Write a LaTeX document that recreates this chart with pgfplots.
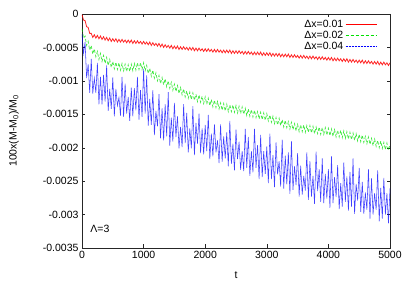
\documentclass[border=0pt]{standalone}
\usepackage{fontspec}
\setmainfont{Liberation Sans}
\usepackage{pgfplots}
\pgfplotsset{compat=1.18}
\usetikzlibrary{calc}
\definecolor{gred}{RGB}{255,0,0}
\definecolor{ggreen}{RGB}{0,225,0}
\definecolor{gblue}{RGB}{0,0,255}
\begin{document}
\begin{tikzpicture}[font=\fontsize{10.5pt}{12pt}\selectfont]
\begin{axis}[
  scale only axis, width=308pt, height=234pt,
  xmin=0, xmax=5000, ymin=-0.0035, ymax=0,
  xtick={0,1000,2000,3000,4000,5000},
  xticklabels={0,1000,2000,3000,4000,5000},
  ytick={0,-0.0005,-0.001,-0.0015,-0.002,-0.0025,-0.003,-0.0035},
  yticklabels={0,-0.0005,-0.001,-0.0015,-0.002,-0.0025,-0.003,-0.0035},
  scaled x ticks=false, scaled y ticks=false,
  /pgf/number format/assume math mode=true,
  tick align=inside, major tick length=3.5pt,
  axis line style={black!85}, tick style={black!85},
  xlabel={t}, ylabel={100x(M-M\textsubscript{0})/M\textsubscript{0}},
  every axis x label/.style={at={(axis description cs:0.5,-0.115)}, anchor=center},
  every axis y label/.style={at={(axis description cs:-0.221,0.5)}, anchor=center, rotate=90},
  legend style={draw=none, fill=none, at={(rel axis cs:1,1)}, anchor=north east, xshift=-10pt, yshift=-2pt, row sep=-2pt},
  legend cell align=right,
  legend plot pos=right,
  legend image code/.code={\draw[#1] (0pt,0pt) -- (31pt,0pt);},
]
\addplot[gred, line width=0.8pt, opacity=0.85, forget plot] coordinates {
(0,-1e-5)(25,-9e-5)(50,-10e-5)(75,-19e-5)(100,-20e-5)(125,-29e-5)(150,-29e-5)(175,-35e-5)(200,-31e-5)(225,-36e-5)
(250,-32e-5)(275,-37e-5)(300,-33e-5)(325,-38e-5)(350,-34e-5)(375,-39e-5)(400,-35e-5)(425,-40e-5)(450,-36e-5)(475,-41e-5)
(500,-37e-5)(525,-41e-5)(550,-37e-5)(575,-42e-5)(600,-38e-5)(625,-42e-5)(650,-38e-5)(675,-42e-5)(700,-39e-5)(725,-43e-5)
(750,-39e-5)(775,-43e-5)(800,-39e-5)(825,-44e-5)(850,-40e-5)(875,-44e-5)(900,-40e-5)(925,-44e-5)(950,-41e-5)(975,-45e-5)
(1000,-41e-5)(1025,-45e-5)(1050,-42e-5)(1075,-46e-5)(1100,-42e-5)(1125,-47e-5)(1150,-43e-5)(1175,-47e-5)(1200,-44e-5)(1225,-48e-5)
(1250,-44e-5)(1275,-49e-5)(1300,-45e-5)(1325,-50e-5)(1350,-46e-5)(1375,-50e-5)(1400,-47e-5)(1425,-51e-5)(1450,-47e-5)(1475,-52e-5)
(1500,-48e-5)(1525,-52e-5)(1550,-48e-5)(1575,-53e-5)(1600,-49e-5)(1625,-53e-5)(1650,-49e-5)(1675,-53e-5)(1700,-50e-5)(1725,-54e-5)
(1750,-50e-5)(1775,-54e-5)(1800,-50e-5)(1825,-55e-5)(1850,-51e-5)(1875,-55e-5)(1900,-51e-5)(1925,-55e-5)(1950,-52e-5)(1975,-56e-5)
(2000,-52e-5)(2025,-56e-5)(2050,-52e-5)(2075,-56e-5)(2100,-53e-5)(2125,-57e-5)(2150,-53e-5)(2175,-57e-5)(2200,-53e-5)(2225,-57e-5)
(2250,-54e-5)(2275,-58e-5)(2300,-54e-5)(2325,-58e-5)(2350,-54e-5)(2375,-58e-5)(2400,-54e-5)(2425,-59e-5)(2450,-55e-5)(2475,-59e-5)
(2500,-55e-5)(2525,-59e-5)(2550,-55e-5)(2575,-59e-5)(2600,-56e-5)(2625,-60e-5)(2650,-56e-5)(2675,-60e-5)(2700,-56e-5)(2725,-60e-5)
(2750,-57e-5)(2775,-61e-5)(2800,-57e-5)(2825,-61e-5)(2850,-57e-5)(2875,-61e-5)(2900,-57e-5)(2925,-62e-5)(2950,-58e-5)(2975,-62e-5)
(3000,-58e-5)(3025,-62e-5)(3050,-58e-5)(3075,-63e-5)(3100,-59e-5)(3125,-63e-5)(3150,-59e-5)(3175,-63e-5)(3200,-59e-5)(3225,-64e-5)
(3250,-60e-5)(3275,-64e-5)(3300,-60e-5)(3325,-64e-5)(3350,-60e-5)(3375,-65e-5)(3400,-61e-5)(3425,-65e-5)(3450,-61e-5)(3475,-65e-5)
(3500,-62e-5)(3525,-66e-5)(3550,-62e-5)(3575,-66e-5)(3600,-62e-5)(3625,-66e-5)(3650,-63e-5)(3675,-67e-5)(3700,-63e-5)(3725,-67e-5)
(3750,-63e-5)(3775,-67e-5)(3800,-64e-5)(3825,-68e-5)(3850,-64e-5)(3875,-68e-5)(3900,-64e-5)(3925,-68e-5)(3950,-65e-5)(3975,-69e-5)
(4000,-65e-5)(4025,-69e-5)(4050,-65e-5)(4075,-70e-5)(4100,-66e-5)(4125,-70e-5)(4150,-66e-5)(4175,-70e-5)(4200,-67e-5)(4225,-71e-5)
(4250,-67e-5)(4275,-71e-5)(4300,-67e-5)(4325,-72e-5)(4350,-68e-5)(4375,-72e-5)(4400,-68e-5)(4425,-72e-5)(4450,-69e-5)(4475,-73e-5)
(4500,-69e-5)(4525,-73e-5)(4550,-69e-5)(4575,-74e-5)(4600,-70e-5)(4625,-74e-5)(4650,-70e-5)(4675,-74e-5)(4700,-71e-5)(4725,-75e-5)
(4750,-71e-5)(4775,-75e-5)(4800,-71e-5)(4825,-76e-5)(4850,-72e-5)(4875,-76e-5)(4900,-72e-5)(4925,-76e-5)(4950,-73e-5)(4975,-77e-5)
(5000,-73e-5)
};
\addplot[ggreen, line width=0.7pt, densely dashed, opacity=0.75, forget plot] coordinates {
(0,-22e-5)(25,-36e-5)(50,-33e-5)(75,-47e-5)(100,-41e-5)(125,-54e-5)(150,-47e-5)(175,-60e-5)(200,-52e-5)(225,-64e-5)
(250,-56e-5)(275,-68e-5)(300,-59e-5)(325,-71e-5)(350,-62e-5)(375,-74e-5)(400,-65e-5)(425,-77e-5)(450,-68e-5)(475,-80e-5)
(500,-71e-5)(525,-82e-5)(550,-72e-5)(575,-83e-5)(600,-73e-5)(625,-84e-5)(650,-74e-5)(675,-85e-5)(700,-75e-5)(725,-86e-5)
(750,-76e-5)(775,-86e-5)(800,-75e-5)(825,-85e-5)(850,-74e-5)(875,-84e-5)(900,-73e-5)(925,-83e-5)(950,-73e-5)(975,-83e-5)
(1000,-73e-5)(1025,-85e-5)(1050,-77e-5)(1075,-89e-5)(1100,-81e-5)(1125,-93e-5)(1150,-84e-5)(1175,-96e-5)(1200,-88e-5)(1225,-100e-5)
(1250,-92e-5)(1275,-104e-5)(1300,-95e-5)(1325,-106e-5)(1350,-97e-5)(1375,-109e-5)(1400,-100e-5)(1425,-111e-5)(1450,-102e-5)(1475,-114e-5)
(1500,-105e-5)(1525,-116e-5)(1550,-107e-5)(1575,-119e-5)(1600,-110e-5)(1625,-121e-5)(1650,-112e-5)(1675,-124e-5)(1700,-115e-5)(1725,-126e-5)
(1750,-117e-5)(1775,-128e-5)(1800,-118e-5)(1825,-129e-5)(1850,-120e-5)(1875,-131e-5)(1900,-121e-5)(1925,-132e-5)(1950,-123e-5)(1975,-134e-5)
(2000,-124e-5)(2025,-135e-5)(2050,-126e-5)(2075,-137e-5)(2100,-128e-5)(2125,-139e-5)(2150,-129e-5)(2175,-140e-5)(2200,-131e-5)(2225,-142e-5)
(2250,-133e-5)(2275,-144e-5)(2300,-134e-5)(2325,-145e-5)(2350,-135e-5)(2375,-146e-5)(2400,-136e-5)(2425,-146e-5)(2450,-136e-5)(2475,-147e-5)
(2500,-137e-5)(2525,-148e-5)(2550,-138e-5)(2575,-149e-5)(2600,-139e-5)(2625,-150e-5)(2650,-141e-5)(2675,-152e-5)(2700,-142e-5)(2725,-153e-5)
(2750,-143e-5)(2775,-154e-5)(2800,-144e-5)(2825,-155e-5)(2850,-146e-5)(2875,-157e-5)(2900,-147e-5)(2925,-158e-5)(2950,-148e-5)(2975,-159e-5)
(3000,-149e-5)(3025,-160e-5)(3050,-151e-5)(3075,-162e-5)(3100,-153e-5)(3125,-164e-5)(3150,-155e-5)(3175,-166e-5)(3200,-156e-5)(3225,-167e-5)
(3250,-158e-5)(3275,-169e-5)(3300,-159e-5)(3325,-170e-5)(3350,-161e-5)(3375,-172e-5)(3400,-162e-5)(3425,-173e-5)(3450,-164e-5)(3475,-175e-5)
(3500,-165e-5)(3525,-176e-5)(3550,-166e-5)(3575,-176e-5)(3600,-166e-5)(3625,-177e-5)(3650,-167e-5)(3675,-177e-5)(3700,-167e-5)(3725,-178e-5)
(3750,-168e-5)(3775,-179e-5)(3800,-169e-5)(3825,-179e-5)(3850,-169e-5)(3875,-180e-5)(3900,-170e-5)(3925,-180e-5)(3950,-170e-5)(3975,-181e-5)
(4000,-171e-5)(4025,-182e-5)(4050,-172e-5)(4075,-183e-5)(4100,-173e-5)(4125,-184e-5)(4150,-174e-5)(4175,-184e-5)(4200,-174e-5)(4225,-185e-5)
(4250,-175e-5)(4275,-186e-5)(4300,-176e-5)(4325,-187e-5)(4350,-177e-5)(4375,-188e-5)(4400,-178e-5)(4425,-189e-5)(4450,-179e-5)(4475,-190e-5)
(4500,-180e-5)(4525,-191e-5)(4550,-181e-5)(4575,-192e-5)(4600,-183e-5)(4625,-194e-5)(4650,-184e-5)(4675,-195e-5)(4700,-186e-5)(4725,-197e-5)
(4750,-187e-5)(4775,-198e-5)(4800,-189e-5)(4825,-200e-5)(4850,-190e-5)(4875,-201e-5)(4900,-192e-5)(4925,-203e-5)(4950,-193e-5)(4975,-204e-5)
(5000,-195e-5)
};
\addplot[gblue, line width=0.55pt, opacity=0.75, forget plot] coordinates {
(0,-30e-5)(25,-59e-5)(50,-42e-5)(75,-96e-5)(100,-75e-5)(125,-118e-5)(150,-67e-5)(175,-119e-5)(200,-96e-5)(225,-118e-5)
(250,-73e-5)(275,-135e-5)(300,-94e-5)(325,-135e-5)(350,-91e-5)(375,-131e-5)(400,-77e-5)(425,-145e-5)(450,-112e-5)(475,-142e-5)
(500,-95e-5)(525,-153e-5)(550,-112e-5)(575,-137e-5)(600,-125e-5)(625,-152e-5)(650,-94e-5)(675,-154e-5)(700,-104e-5)(725,-149e-5)
(750,-124e-5)(775,-160e-5)(800,-110e-5)(825,-153e-5)(850,-111e-5)(875,-144e-5)(900,-94e-5)(925,-158e-5)(950,-114e-5)(975,-154e-5)
(1000,-82e-5)(1025,-149e-5)(1050,-92e-5)(1075,-167e-5)(1100,-127e-5)(1125,-166e-5)(1150,-114e-5)(1175,-181e-5)(1200,-145e-5)(1225,-168e-5)
(1250,-120e-5)(1275,-186e-5)(1300,-141e-5)(1325,-189e-5)(1350,-135e-5)(1375,-183e-5)(1400,-117e-5)(1425,-197e-5)(1450,-155e-5)(1475,-191e-5)
(1500,-133e-5)(1525,-184e-5)(1550,-153e-5)(1575,-201e-5)(1600,-169e-5)(1625,-199e-5)(1650,-135e-5)(1675,-193e-5)(1700,-148e-5)(1725,-207e-5)
(1750,-171e-5)(1775,-201e-5)(1800,-138e-5)(1825,-211e-5)(1850,-163e-5)(1875,-194e-5)(1900,-149e-5)(1925,-208e-5)(1950,-171e-5)(1975,-210e-5)
(2000,-166e-5)(2025,-205e-5)(2050,-151e-5)(2075,-217e-5)(2100,-179e-5)(2125,-213e-5)(2150,-165e-5)(2175,-207e-5)(2200,-189e-5)(2225,-223e-5)
(2250,-165e-5)(2275,-221e-5)(2300,-183e-5)(2325,-216e-5)(2350,-177e-5)(2375,-228e-5)(2400,-160e-5)(2425,-224e-5)(2450,-194e-5)(2475,-234e-5)
(2500,-173e-5)(2525,-217e-5)(2550,-191e-5)(2575,-233e-5)(2600,-205e-5)(2625,-235e-5)(2650,-172e-5)(2675,-230e-5)(2700,-184e-5)(2725,-242e-5)
(2750,-205e-5)(2775,-237e-5)(2800,-172e-5)(2825,-230e-5)(2850,-196e-5)(2875,-247e-5)(2900,-181e-5)(2925,-244e-5)(2950,-205e-5)(2975,-239e-5)
(3000,-198e-5)(3025,-253e-5)(3050,-179e-5)(3075,-247e-5)(3100,-211e-5)(3125,-259e-5)(3150,-192e-5)(3175,-240e-5)(3200,-220e-5)(3225,-258e-5)
(3250,-188e-5)(3275,-261e-5)(3300,-212e-5)(3325,-255e-5)(3350,-207e-5)(3375,-269e-5)(3400,-190e-5)(3425,-263e-5)(3450,-228e-5)(3475,-256e-5)
(3500,-208e-5)(3525,-273e-5)(3550,-227e-5)(3575,-270e-5)(3600,-242e-5)(3625,-264e-5)(3650,-207e-5)(3675,-278e-5)(3700,-220e-5)(3725,-273e-5)
(3750,-242e-5)(3775,-284e-5)(3800,-206e-5)(3825,-265e-5)(3850,-232e-5)(3875,-281e-5)(3900,-216e-5)(3925,-283e-5)(3950,-239e-5)(3975,-276e-5)
(4000,-232e-5)(4025,-290e-5)(4050,-213e-5)(4075,-283e-5)(4100,-244e-5)(4125,-274e-5)(4150,-226e-5)(4175,-292e-5)(4200,-253e-5)(4225,-288e-5)
(4250,-222e-5)(4275,-281e-5)(4300,-243e-5)(4325,-294e-5)(4350,-236e-5)(4375,-288e-5)(4400,-216e-5)(4425,-299e-5)(4450,-254e-5)(4475,-279e-5)
(4500,-230e-5)(4525,-296e-5)(4550,-251e-5)(4575,-299e-5)(4600,-267e-5)(4625,-293e-5)(4650,-232e-5)(4675,-306e-5)(4700,-246e-5)(4725,-300e-5)
(4750,-268e-5)(4775,-293e-5)(4800,-234e-5)(4825,-310e-5)(4850,-260e-5)(4875,-306e-5)(4900,-245e-5)(4925,-300e-5)(4950,-268e-5)(4975,-313e-5)
(5000,-261e-5)
};
\addlegendimage{gred, line width=0.5pt}
\addlegendentry{Δx=0.01}
\addlegendimage{ggreen, line width=0.5pt, densely dashed}
\addlegendentry{Δx=0.02}
\addlegendimage{gblue, line width=0.5pt, densely dotted}
\addlegendentry{Δx=0.04}
\node[anchor=west] at (axis cs:80,-0.00321) {Λ=3};
\end{axis}
\path ($(current axis.south west)+(-82pt,-37pt)$) rectangle ($(current axis.north east)+(17pt,14pt)$);
\end{tikzpicture}
\end{document}
